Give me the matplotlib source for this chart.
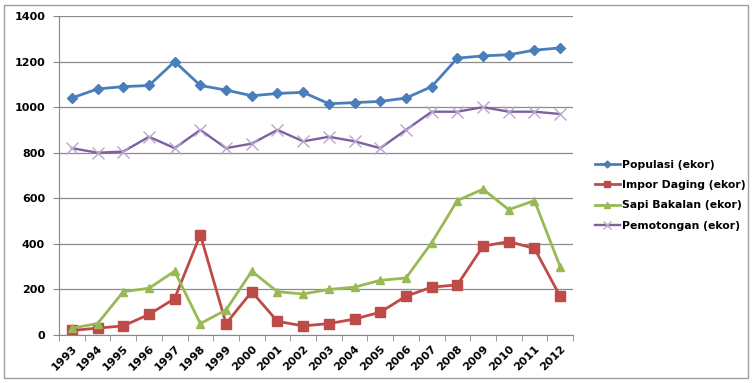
import matplotlib
matplotlib.use('Agg')
import matplotlib.pyplot as plt
from matplotlib.patches import Rectangle

years = [str(y) for y in range(1993, 2013)]
populasi = [1040, 1080, 1090, 1095, 1200, 1095, 1075, 1050, 1060, 1065,
            1015, 1020, 1025, 1040, 1090, 1215, 1225, 1230, 1250, 1260]
impor_daging = [20, 30, 40, 90, 160, 440, 50, 190, 60, 40,
                50, 70, 100, 170, 210, 220, 390, 410, 380, 170]
sapi_bakalan = [30, 50, 190, 205, 280, 50, 110, 280, 190, 180,
                200, 210, 240, 250, 405, 590, 640, 550, 590, 300]
pemotongan = [820, 800, 805, 870, 820, 900, 820, 840, 900, 850,
              870, 850, 820, 900, 980, 980, 1000, 980, 980, 970]
yticks = [0, 200, 400, 600, 800, 1000, 1200, 1400]

fig = plt.figure(figsize=(7.53, 3.83), dpi=100)
ax = fig.add_axes([59 / 753, 48 / 383, (573 - 59) / 753, (335 - 16) / 383])

# outer chart frame
fig.patches.append(Rectangle((4 / 753, 5 / 383), 744 / 753, 373 / 383,
                             transform=fig.transFigure, fill=False,
                             edgecolor='#a0a0a0', lw=1.0))

x = list(range(len(years)))
ax.plot(x, populasi, color='#4A7EBB', lw=2.0, marker='D', ms=5,
        label='Populasi (ekor)')
ax.plot(x, impor_daging, color='#BE4B48', lw=2.0, marker='s', ms=7,
        label='Impor Daging (ekor)')
ax.plot(x, sapi_bakalan, color='#98B954', lw=2.0, marker='^', ms=6,
        label='Sapi Bakalan (ekor)')
ax.plot(x, pemotongan, color='#7D60A0', lw=1.7, marker='x', ms=8,
        mec='#B8A8CC', mew=1.0, label='Pemotongan (ekor)')

ax.set_xlim(-0.5, len(years) - 0.5)
ax.set_ylim(0, 1400)
ax.set_yticks(yticks)
ax.set_yticklabels([str(v) for v in yticks], fontsize=8, fontweight='bold')
ax.set_xticks(x)
ax.set_xticklabels(years, rotation=45, fontsize=8, fontweight='bold',
                   ha='right', rotation_mode='anchor')
ax.set_xticks([i - 0.5 for i in range(len(years) + 1)], minor=True)
ax.tick_params(axis='x', which='major', length=0, pad=6)
ax.tick_params(axis='x', which='minor', length=4, color='#888888')
ax.tick_params(axis='y', length=4, color='#888888', pad=6)

ax.grid(axis='y', color='#8c8c8c', lw=0.9)
ax.set_axisbelow(True)
for side in ['top', 'right']:
    ax.spines[side].set_visible(False)
for side in ['left', 'bottom']:
    ax.spines[side].set_color('#888888')

leg = fig.legend(loc='upper left', bbox_to_anchor=(585 / 753, 1 - 150 / 383),
                 frameon=False, prop={'size': 7.8, 'weight': 'bold'},
                 handlelength=2.3, labelspacing=0.95, handletextpad=0.2,
                 markerscale=0.7)

fig.savefig('out.png', dpi=100)
